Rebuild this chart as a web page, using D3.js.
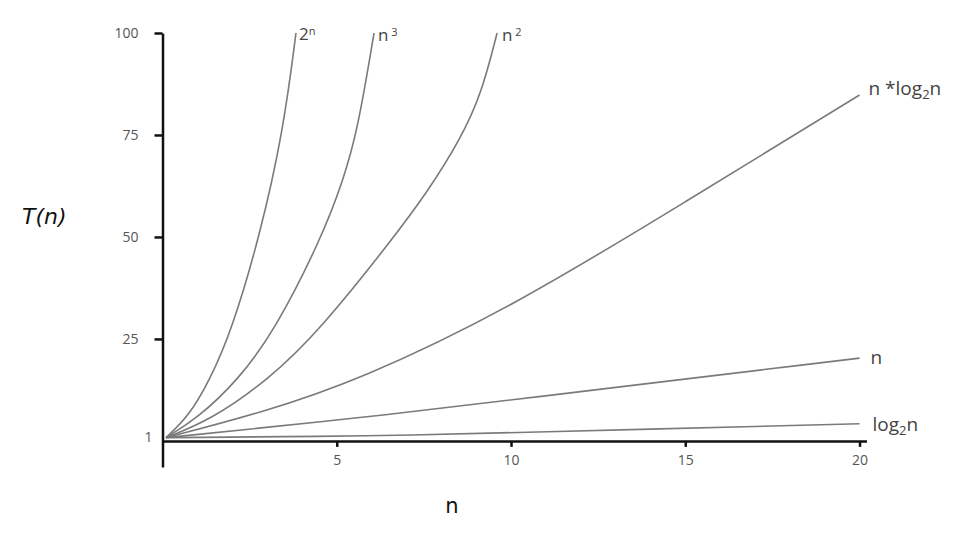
<!DOCTYPE html>
<html>
<head>
<meta charset="utf-8">
<script src="https://cdn.jsdelivr.net/npm/d3@7"></script>
<style>
  html, body { margin: 0; padding: 0; background: #fff; }
  svg { display: block; }
</style>
</head>
<body>
<svg id="chart" width="965" height="533"></svg>
<script>
// ---- data (n, T(n)) ----
const curveNames = ["2^n", "n^3", "n^2", "n*log2n", "n", "log2n"];
const exp2Points   = [[0.1,0.8],[0.75,6],[1.36,15],[1.99,27.2],[2.8,50.5],[3.47,76.2],[3.83,100]];
const cubePoints   = [[0.1,0.8],[1.0,5.5],[2.18,15],[3.23,27.2],[4.55,49.5],[5.19,64],[5.6,76.2],[6.07,100]];
const squarePoints = [[0.1,0.8],[1.4,5.2],[3.04,15],[4.52,27.2],[6.62,49.7],[7.6,61],[8.54,73.8],[9.15,85],[9.6,100]];
const nlognPoints  = [[0.1,0.8],[2.8,6.8],[5.67,15],[9.97,32.5],[14.95,58.3],[20,84.8]];
const linearPoints = [[0.1,0.8],[5.67,5.6],[9.97,10],[20,20.3]];
const logPoints    = [[0.1,0.8],[6.24,1.2],[10,2.0],[20,4.2]];
const xTickValues = [5, 10, 15, 20];
const yTickValues = [1, 25, 50, 75, 100];

const series = [exp2Points, cubePoints, squarePoints, nlognPoints, linearPoints, logPoints];

const svg = d3.select("#chart");
const x = d3.scaleLinear().domain([0, 20.2]).range([162.5, 866.5]);
const y = d3.scaleLinear().domain([-6.4, 100]).range([467, 33]);

// curves
const line = d3.line().x(d => x(d[0])).y(d => y(d[1])).curve(d3.curveBasis);
svg.append("g").selectAll("path").data(series).join("path")
  .attr("d", line)
  .attr("fill", "none")
  .attr("stroke", "#7a7a7a")
  .attr("stroke-width", 1.6);

// x axis
const xAxis = svg.append("g")
  .attr("transform", `translate(0,${y(0)})`)
  .call(d3.axisBottom(x).tickValues(xTickValues).tickSize(6).tickSizeOuter(0).tickPadding(8));
xAxis.select(".domain").attr("stroke", "#111").attr("stroke-width", 2.5);
xAxis.selectAll(".tick line").attr("stroke", "#111").attr("stroke-width", 2.5);
xAxis.selectAll(".tick text").attr("fill", "#555").style("font-family", "Open Sans").style("font-size", "14px");

// y axis
const yAxis = svg.append("g")
  .attr("transform", `translate(${x(0)},0)`)
  .call(d3.axisLeft(y).tickValues(yTickValues).tickSize(8).tickSizeOuter(0).tickPadding(16));
yAxis.select(".domain").attr("stroke", "#111").attr("stroke-width", 2.5);
yAxis.selectAll(".tick line").attr("stroke", "#111").attr("stroke-width", 2.5);
yAxis.selectAll(".tick").filter(d => d === 1).select("line").remove();
yAxis.selectAll(".tick").filter(d => d === 1).select("text").attr("x", -10);
yAxis.selectAll(".tick text").attr("fill", "#555").style("font-family", "Open Sans").style("font-size", "14px");

// curve labels
const labelFont = "Open Sans";
const labelColor = "#444";
function label(pt, dx, dy, size, parts) {
  const t = svg.append("text")
    .attr("x", x(pt[0]) + dx).attr("y", y(pt[1]) + dy)
    .attr("fill", labelColor).style("font-family", labelFont).style("font-size", size + "px");
  parts.forEach(p => {
    const s = t.append("tspan").text(p.t);
    if (p.sup) s.attr("dy", p.dy).style("font-size", Math.round(size * 0.65) + "px");
    if (p.sub) s.attr("dy", p.dy).style("font-size", Math.round(size * 0.68) + "px");
    if (p.back) s.attr("dy", p.dy);
  });
}
label(exp2Points[exp2Points.length - 1], 3, 7, 17, [{t: "2"}, {t: "n", sup: true, dy: -5}]);
label(cubePoints[cubePoints.length - 1], 4, 8, 17, [{t: "n"}, {t: " 3", sup: true, dy: -5}]);
label(squarePoints[squarePoints.length - 1], 5, 8, 17, [{t: "n"}, {t: " 2", sup: true, dy: -5}]);
label(nlognPoints[nlognPoints.length - 1], 9, 0, 19, [{t: "n *log"}, {t: "2", sub: true, dy: 4}, {t: "n", back: true, dy: -4}]);
label(linearPoints[linearPoints.length - 1], 11, 6, 19, [{t: "n"}]);
label(logPoints[logPoints.length - 1], 13, 7, 19, [{t: "log"}, {t: "2", sub: true, dy: 4}, {t: "n", back: true, dy: -4}]);

// axis titles
svg.append("text").attr("x", 22).attr("y", 224)
  .style("font-family", "DejaVu Sans").style("font-style", "italic").style("font-size", "22px")
  .attr("fill", "#111").text("T(n)");
svg.append("text").attr("x", 452).attr("y", 513).attr("text-anchor", "middle")
  .style("font-family", "DejaVu Sans").style("font-size", "21px")
  .attr("fill", "#111").text("n");
</script>
</body>
</html>
